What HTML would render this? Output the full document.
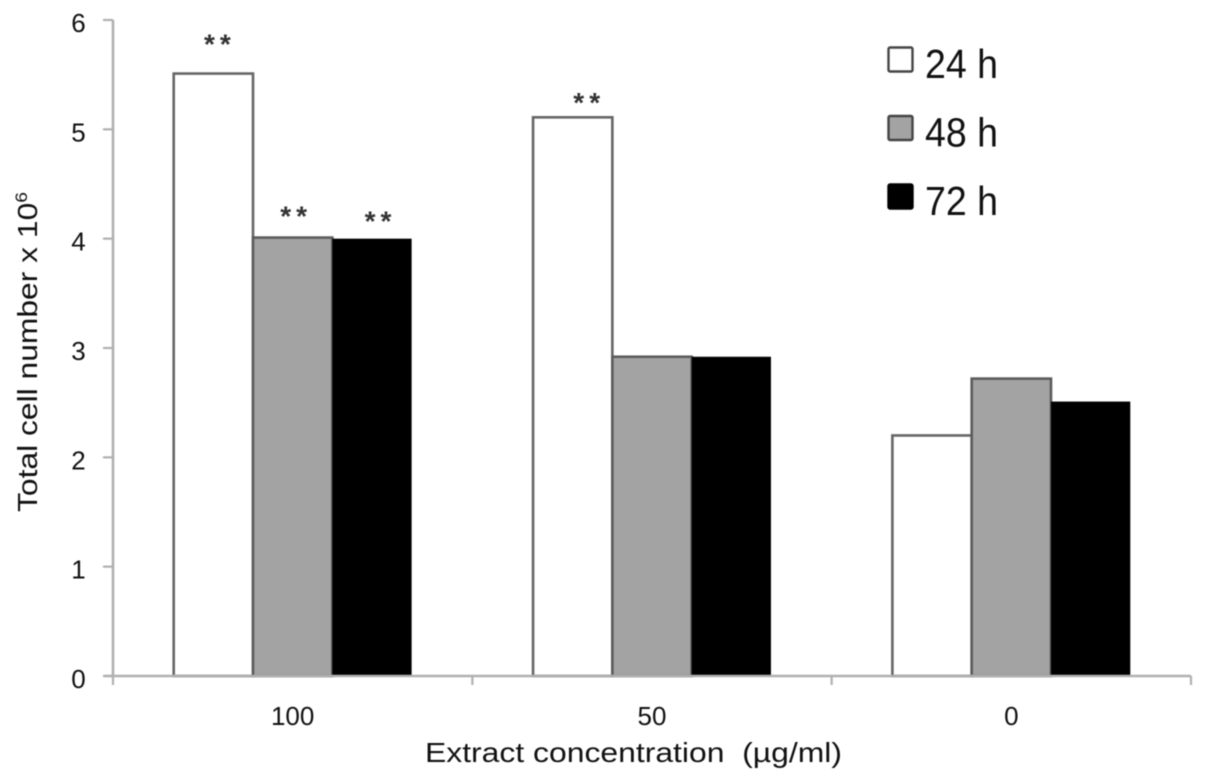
<!DOCTYPE html>
<html>
<head>
<meta charset="utf-8">
<style>
html,body{margin:0;padding:0;background:#fff;width:1205px;height:781px;overflow:hidden}
svg{display:block;filter:blur(0.5px)}
text{font-family:"Liberation Sans",sans-serif;fill:#111}
</style>
</head>
<body>
<svg id="chart" xmlns="http://www.w3.org/2000/svg" width="1205" height="781" viewBox="0 0 1205 781">
<g id="marks"></g>
<g id="axes"></g>
<g id="legend"></g>
<text x="633.5" y="762" font-size="28" text-anchor="middle" textLength="417" lengthAdjust="spacingAndGlyphs">Extract concentration&#160; (µg/ml)</text>
<text transform="translate(37,352) rotate(-90)" font-size="28" text-anchor="middle" textLength="320" lengthAdjust="spacingAndGlyphs">Total cell number x 10<tspan font-size="17" dy="-10">6</tspan></text>
</svg>
<script>
const categories = ['100', '50', '0'];
const seriesNames = ['24 h', '48 h', '72 h'];
const values24h = [5.51, 5.11, 2.2];
const values48h = [4.01, 2.92, 2.72];
const values72h = [4.0, 2.92, 2.51];
const stars24h = ['**', '**', ''];
const stars48h = ['**', '', ''];
const stars72h = ['**', '', ''];
const yTicks = [0, 1, 2, 3, 4, 5, 6];

const NS = 'http://www.w3.org/2000/svg';
const plotLeft = 113, plotRight = 1191, plotBottom = 676, plotTop = 20;
const yMax = 6;
const seriesValues = [values24h, values48h, values72h];
const seriesStars = [stars24h, stars48h, stars72h];
const fills = ['#ffffff', '#a3a3a3', '#000000'];
const strokes = ['#666666', '#5c5c5c', 'none'];
const barWidth = 79.3;
const starNudge = {
  '0-0': [4, 32], '0-1': [14, 17],
  '1-0': [1, 24],
  '2-0': [6, 20]
};

function yScale(v) { return plotBottom - (v / yMax) * (plotBottom - plotTop); }
function bandWidth() { return (plotRight - plotLeft) / categories.length; }
function xCenter(i) { return plotLeft + bandWidth() * (i + 0.5); }
function xBar(i, s) { return xCenter(i) - barWidth * seriesValues.length / 2 + barWidth * s; }
function make(tag, attrs, parent) {
  const el = document.createElementNS(NS, tag);
  for (const k in attrs) el.setAttribute(k, attrs[k]);
  parent.appendChild(el);
  return el;
}

const marks = document.getElementById('marks');
const axes = document.getElementById('axes');
const legend = document.getElementById('legend');

seriesValues.forEach(function (vals, s) {
  vals.forEach(function (v, i) {
    const bar = make('rect', {
      x: xBar(i, s), y: yScale(v), width: barWidth, height: plotBottom - yScale(v),
      fill: fills[s], stroke: strokes[s], 'stroke-width': 2.6
    }, marks);
    
    
  });
});
seriesStars.forEach(function (row, s) {
  row.forEach(function (mark, i) {
    if (!mark) return;
    const nudge = starNudge[s + '-' + i] || [0, 20];
    const star = make('text', {
      x: xBar(i, s) + barWidth / 2 + nudge[0] + 2.5,
      y: yScale(seriesValues[s][i]) - nudge[1] + 11.7,
      'font-size': 28, 'text-anchor': 'middle', 'font-weight': 'bold', 'letter-spacing': 5
    }, marks);
    star.style.fill = '#333';
    star.textContent = mark;
    
    
  });
});

const axisColor = '#b0b0b0';
const yLine = make('line', { x1: plotLeft, x2: plotLeft, y1: plotTop, y2: plotBottom, stroke: axisColor, 'stroke-width': 2.6 }, axes);


const xLine = make('line', { x1: plotLeft - 9, x2: plotRight, y1: plotBottom, y2: plotBottom, stroke: axisColor, 'stroke-width': 2.6 }, axes);



yTicks.forEach(function (t) {
  const y = yScale(t);
  const tick = make('line', { x1: plotLeft - 10, x2: plotLeft, y1: y, y2: y, stroke: axisColor, 'stroke-width': 2.2 }, axes);
  
  
  const label = make('text', { x: 78.5, y: y + 12, 'font-size': 26, 'text-anchor': 'middle' }, axes);
  label.textContent = t;
  
  
});

for (let i = 0; i <= categories.length; i++) {
  const x = plotLeft + bandWidth() * i;
  const tick = make('line', { x1: x, x2: x, y1: plotBottom, y2: plotBottom + 9, stroke: axisColor, 'stroke-width': 2.2 }, axes);
  
  
}
categories.forEach(function (c, i) {
  const label = make('text', { x: xCenter(i), y: 725, 'font-size': 26, 'text-anchor': 'middle' }, axes);
  label.textContent = c;
  
  
});

const legendStroke = ['#444444', '#444444', '#000000'];
seriesNames.forEach(function (n, s) {
  const top = 47.5 + s * 68.5;
  const swatch = make('rect', { x: 888.5, y: top, width: 24, height: 24, rx: 1.5, fill: fills[s], stroke: legendStroke[s], 'stroke-width': 2.4 }, legend);
  
  
  const label = make('text', { x: 925, y: top + 30.5, 'font-size': 41 }, legend);
  label.textContent = n;
  label.setAttribute('textLength', 73);
  label.setAttribute('lengthAdjust', 'spacingAndGlyphs');
  
  
});
</script>
</body>
</html>
